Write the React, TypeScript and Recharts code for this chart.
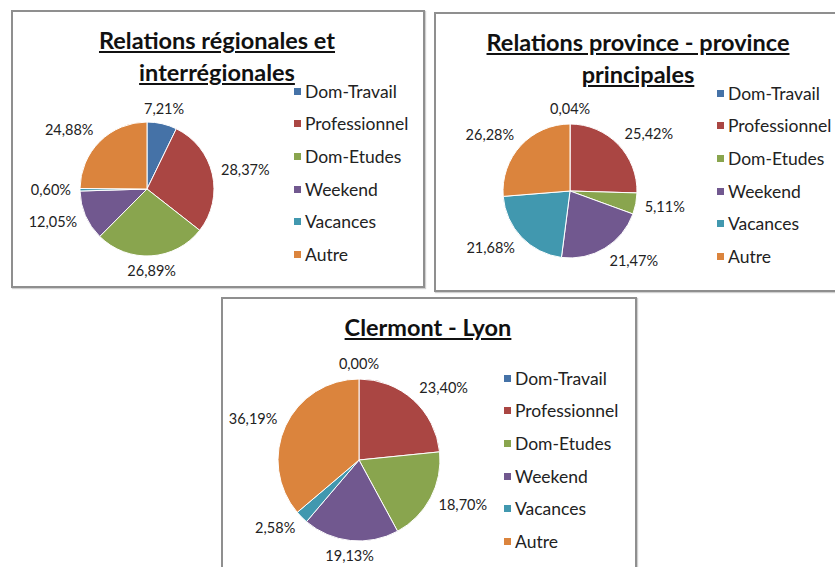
import React from "react";
import { PieChart, Pie, Cell } from "recharts";

const categories = ["Dom-Travail", "Professionnel", "Dom-Etudes", "Weekend", "Vacances", "Autre"];
const colors = ["#4572A7", "#AA4643", "#89A54E", "#71588F", "#4198AF", "#DB843D"];

const regionalValues = [7.21, 28.37, 26.89, 12.05, 0.6, 24.88];
const provinceValues = [0.04, 25.42, 5.11, 21.47, 21.68, 26.28];
const clermontValues = [0.0, 23.4, 18.7, 19.13, 2.58, 36.19];

const FONT = "Lato, 'Open Sans', sans-serif";
const RAD = Math.PI / 180;

const toRows = (values: number[]) => categories.map((name, i) => ({ name, value: values[i] }));

function renderLabel(props: any) {
  const { cx, cy, midAngle, outerRadius, value } = props;
  const r = outerRadius + 9;
  const c = Math.cos(-midAngle * RAD);
  const s = Math.sin(-midAngle * RAD);
  const x = cx + r * c;
  const y = cy + r * s;
  const anchor = c > 0.35 ? "start" : c < -0.35 ? "end" : "middle";
  return (
    <text
      x={x}
      y={y + 5 + 6.5 * s}
      textAnchor={anchor}
      fill="#222"
      fontSize={14.5}
      fontFamily={FONT}
    >
      {value.toFixed(2).replace(".", ",") + "%"}
    </text>
  );
}

function LegendList() {
  return (
    <div style={{ position: "absolute", left: 281, top: 63, fontFamily: FONT, fontSize: 17.5, color: "#222" }}>
      {categories.map((name, i) => (
        <div key={name} style={{ height: 32.6, display: "flex", alignItems: "center", whiteSpace: "nowrap" }}>
          <span style={{ width: 7, height: 7, background: colors[i], marginRight: 4, display: "inline-block" }} />
          {name}
        </div>
      ))}
    </div>
  );
}

type BoxProps = {
  left: number;
  top: number;
  width: number;
  height: number;
  title: string[];
  titleX: number;
  titleY: number;
  values: number[];
  cx: number;
  cy: number;
  radius: number;
};

function ChartBox({ left, top, width, height, title, titleX, titleY, values, cx, cy, radius }: BoxProps) {
  return (
    <div
      style={{
        position: "absolute",
        left,
        top,
        width,
        height,
        border: "2px solid #8f8f8f",
        boxShadow: "1px 1px 1px #d0d0d0",
        background: "#fff",
        overflow: "hidden",
      }}
    >
      <div
        style={{
          position: "absolute",
          left: titleX - 200,
          top: titleY,
          width: 400,
          textAlign: "center",
          fontFamily: FONT,
          fontWeight: 700,
          fontSize: 23.5,
          lineHeight: "32px",
          color: "#111",
          textDecoration: "underline",
        }}
      >
        {title.map((t) => (
          <div key={t}>{t}</div>
        ))}
      </div>
      <PieChart
        width={width}
        height={height}
        margin={{ top: 0, right: 0, bottom: 0, left: 0 }}
        style={{ position: "absolute", left: 0, top: 0 }}
      >
        <Pie
          data={toRows(values)}
          dataKey="value"
          nameKey="name"
          cx={cx}
          cy={cy}
          outerRadius={radius}
          startAngle={90}
          endAngle={-270}
          stroke="#fff"
          strokeWidth={1}
          label={renderLabel}
          labelLine={false}
          isAnimationActive={false}
        >
          {values.map((_, i) => (
            <Cell key={categories[i]} fill={colors[i]} />
          ))}
        </Pie>
      </PieChart>
      <LegendList />
    </div>
  );
}

export default function App() {
  return (
    <div style={{ position: "absolute", left: 0, top: 0, width: 835, height: 567, overflow: "hidden", background: "#fff" }}>
      <ChartBox
        left={11}
        top={10}
        width={410}
        height={274}
        title={["Relations régionales et", "interrégionales"]}
        titleX={204}
        titleY={12}
        values={regionalValues}
        cx={134}
        cy={177}
        radius={67}
      />
      <ChartBox
        left={434}
        top={12}
        width={410}
        height={276}
        title={["Relations province - province", "principales"]}
        titleX={202}
        titleY={12}
        values={provinceValues}
        cx={134}
        cy={177}
        radius={67}
      />
      <ChartBox
        left={221}
        top={297}
        width={412}
        height={290}
        title={["Clermont - Lyon"]}
        titleX={205}
        titleY={12}
        values={clermontValues}
        cx={136}
        cy={161}
        radius={81}
      />
    </div>
  );
}
